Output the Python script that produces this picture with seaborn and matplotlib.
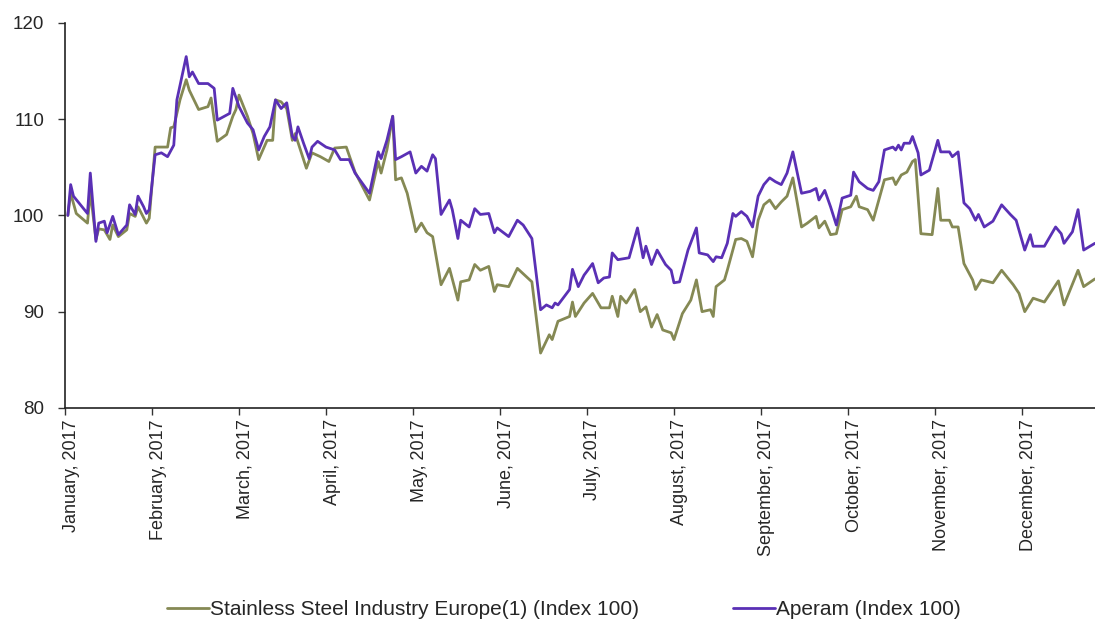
import calendar
import matplotlib.pyplot as plt
import matplotlib.transforms as mtransforms
import pandas as pd
import seaborn as sns

# DATA (2017, index = 100)
sse_dates = [
    "01-02", "01-03", "01-05", "01-09", "01-10", "01-12", "01-13", "01-15", "01-17", "01-18",
    "01-20", "01-23", "01-24", "01-26", "01-27", "01-30", "01-31", "02-02", "02-06", "02-07",
    "02-08", "02-10", "02-12", "02-13", "02-16", "02-19", "02-20", "02-22", "02-25", "02-27",
    "02-28", "03-01", "03-04", "03-06", "03-08", "03-11", "03-13", "03-14", "03-16", "03-18",
    "03-20", "03-21", "03-25", "03-27", "03-30", "04-02", "04-04", "04-08", "04-11", "04-16",
    "04-19", "04-20", "04-22", "04-24", "04-25", "04-27", "04-29", "05-02", "05-04", "05-06",
    "05-08", "05-11", "05-14", "05-17", "05-18", "05-21", "05-23", "05-25", "05-28", "05-30",
    "05-31", "06-04", "06-07", "06-12", "06-15", "06-18", "06-19", "06-21", "06-25", "06-26",
    "06-27", "06-30", "07-03", "07-06", "07-09", "07-10", "07-12", "07-13", "07-15", "07-18",
    "07-20", "07-22", "07-24", "07-26", "07-28", "07-31", "08-01", "08-04", "08-07", "08-09",
    "08-11", "08-14", "08-15", "08-16", "08-19", "08-20", "08-23", "08-25", "08-27", "08-29",
    "08-31", "09-02", "09-04", "09-06", "09-08", "09-10", "09-12", "09-15", "09-17", "09-20",
    "09-21", "09-23", "09-25", "09-27", "09-29", "10-02", "10-04", "10-05", "10-08", "10-10",
    "10-12", "10-14", "10-17", "10-18", "10-20", "10-22", "10-24", "10-25", "10-27", "10-31",
    "11-02", "11-03", "11-06", "11-07", "11-09", "11-11", "11-14", "11-15", "11-17", "11-21",
    "11-24", "11-28", "11-30", "12-02", "12-05", "12-09", "12-14", "12-16", "12-21", "12-23",
    "12-27",
]
sse_values = [
    100.0, 102.3, 100.2, 99.2, 102.5, 97.5, 98.6, 98.5, 97.5, 99.0,
    97.8, 98.5, 100.2, 99.9, 100.9, 99.2, 99.7, 107.1, 107.1, 109.1,
    109.2, 112.0, 114.1, 113.0, 111.0, 111.3, 112.2, 107.7, 108.4, 110.3,
    111.0, 112.5, 110.3, 108.5, 105.8, 107.8, 107.8, 112.0, 111.8, 111.1,
    107.8, 108.5, 104.9, 106.5, 106.1, 105.6, 107.0, 107.1, 104.5, 101.6,
    105.6, 104.4, 106.8, 110.3, 103.7, 103.9, 102.3, 98.3, 99.2, 98.2,
    97.8, 92.8, 94.5, 91.2, 93.1, 93.3, 94.9, 94.3, 94.7, 92.1,
    92.8, 92.6, 94.5, 93.1, 85.7, 87.6, 87.1, 89.0, 89.5, 91.0,
    89.5, 90.9, 91.9, 90.4, 90.4, 91.6, 89.5, 91.6, 90.9, 92.3,
    90.0, 90.5, 88.4, 89.7, 88.1, 87.8, 87.1, 89.8, 91.2, 93.3,
    90.0, 90.2, 89.5, 92.6, 93.3, 94.3, 97.5, 97.6, 97.3, 95.7,
    99.5, 101.1, 101.6, 100.7, 101.4, 102.0, 103.9, 98.8, 99.2, 99.9,
    98.7, 99.4, 98.0, 98.1, 100.6, 100.9, 102.0, 100.9, 100.6, 99.5,
    101.6, 103.7, 103.9, 103.2, 104.2, 104.5, 105.6, 105.8, 98.1, 98.0,
    102.8, 99.5, 99.5, 98.8, 98.8, 95.0, 93.3, 92.3, 93.3, 93.0,
    94.3, 92.8, 91.9, 90.0, 91.4, 91.0, 93.2, 90.7, 94.3, 92.6,
    93.4,
]

aperam_dates = [
    "01-02", "01-03", "01-04", "01-09", "01-10", "01-12", "01-13", "01-15", "01-16", "01-18",
    "01-20", "01-23", "01-24", "01-26", "01-27", "01-29", "01-30", "01-31", "02-02", "02-04",
    "02-06", "02-08", "02-09", "02-12", "02-13", "02-14", "02-16", "02-19", "02-21", "02-22",
    "02-26", "02-27", "03-01", "03-04", "03-06", "03-08", "03-10", "03-12", "03-14", "03-16",
    "03-18", "03-20", "03-21", "03-22", "03-24", "03-26", "03-27", "03-29", "04-01", "04-04",
    "04-06", "04-09", "04-11", "04-16", "04-19", "04-20", "04-22", "04-24", "04-25", "04-27",
    "04-30", "05-02", "05-04", "05-06", "05-08", "05-09", "05-11", "05-14", "05-15", "05-17",
    "05-18", "05-21", "05-23", "05-25", "05-28", "05-30", "05-31", "06-04", "06-07", "06-09",
    "06-12", "06-15", "06-17", "06-19", "06-20", "06-21", "06-25", "06-26", "06-28", "06-30",
    "07-01", "07-03", "07-05", "07-07", "07-09", "07-10", "07-12", "07-16", "07-19", "07-21",
    "07-22", "07-24", "07-26", "07-29", "07-31", "08-01", "08-03", "08-06", "08-09", "08-10",
    "08-13", "08-15", "08-16", "08-18", "08-20", "08-22", "08-23", "08-25", "08-27", "08-29",
    "08-31", "09-02", "09-04", "09-06", "09-08", "09-10", "09-12", "09-15", "09-18", "09-20",
    "09-21", "09-23", "09-25", "09-27", "09-29", "10-02", "10-03", "10-05", "10-08", "10-10",
    "10-12", "10-14", "10-17", "10-18", "10-19", "10-20", "10-21", "10-23", "10-24", "10-26",
    "10-27", "10-30", "11-02", "11-03", "11-06", "11-07", "11-09", "11-11", "11-13", "11-15",
    "11-16", "11-18", "11-21", "11-24", "11-27", "11-29", "12-02", "12-04", "12-05", "12-09",
    "12-13", "12-15", "12-16", "12-19", "12-21", "12-23", "12-27",
]
aperam_values = [
    100.0, 103.2, 102.0, 100.2, 104.4, 97.3, 99.2, 99.4, 98.2, 99.9,
    98.0, 99.0, 101.1, 100.1, 102.0, 100.9, 100.2, 100.6, 106.3, 106.5,
    106.1, 107.3, 112.0, 116.5, 114.4, 114.9, 113.7, 113.7, 113.2, 109.9,
    110.6, 113.2, 111.3, 109.6, 108.9, 106.8, 108.2, 109.2, 112.0, 111.1,
    111.7, 108.2, 107.8, 109.2, 107.5, 105.9, 107.1, 107.7, 107.1, 106.8,
    105.8, 105.8, 104.4, 102.3, 106.6, 105.9, 107.8, 110.3, 105.8, 106.1,
    106.6, 104.4, 105.1, 104.6, 106.3, 105.9, 100.1, 101.6, 100.6, 97.6,
    99.5, 98.8, 100.7, 100.1, 100.2, 98.2, 98.7, 97.8, 99.5, 99.0,
    97.6, 90.2, 90.7, 90.4, 90.9, 90.7, 92.3, 94.4, 92.6, 93.8,
    94.2, 95.0, 93.0, 93.5, 93.6, 96.1, 95.4, 95.6, 98.7, 95.6,
    96.8, 94.9, 96.4, 94.9, 94.3, 93.0, 93.1, 96.4, 98.7, 96.1,
    95.9, 95.2, 95.7, 95.6, 97.1, 100.2, 99.9, 100.4, 99.9, 98.8,
    102.0, 103.2, 103.9, 103.5, 103.2, 104.4, 106.6, 102.3, 102.5, 102.8,
    101.6, 102.6, 100.9, 99.0, 101.8, 102.1, 104.5, 103.5, 102.8, 102.6,
    103.5, 106.8, 107.1, 106.8, 107.3, 106.8, 107.5, 107.5, 108.2, 106.5,
    104.2, 104.7, 107.8, 106.6, 106.6, 106.1, 106.6, 101.3, 100.7, 99.5,
    100.1, 98.8, 99.4, 101.1, 100.1, 99.5, 96.4, 98.0, 96.8, 96.8,
    98.8, 98.1, 97.1, 98.3, 100.6, 96.4, 97.1,
]

series_names = ["Stainless Steel Industry Europe(1) (Index 100)", "Aperam (Index 100)"]
series_colors = ["#858954", "#5a30b5"]
month_names = ["January", "February", "March", "April", "May", "June", "July",
               "August", "September", "October", "November", "December"]
month_labels = [f"{m}, 2017" for m in month_names]


def month_pos(d):
    # position on a month axis: each month gets the same width
    return d.month - 1 + (d.day - 1) / calendar.monthrange(d.year, d.month)[1]


frames = []
for name, dates, vals in [(series_names[0], sse_dates, sse_values),
                          (series_names[1], aperam_dates, aperam_values)]:
    dd = pd.to_datetime(["2017-" + s for s in dates])
    frames.append(pd.DataFrame({"pos": [month_pos(d) for d in dd], "value": vals, "series": name}))
df = pd.concat(frames, ignore_index=True)

sns.set_style("ticks")
plt.rcParams["font.family"] = ["Liberation Sans", "DejaVu Sans"]

fig = plt.figure(figsize=(10.95, 6.19), dpi=100)
ax = fig.add_axes([0.0594, 0.341, 0.9406, 0.622])

sns.lineplot(data=df, x="pos", y="value", hue="series", hue_order=series_names,
             palette=series_colors, linewidth=2.0, legend=False, ax=ax)

ax.set_xlim(0, 11.84)
ax.set_ylim(80, 120)
ax.set_yticks([80, 90, 100, 110, 120])
ax.set_xticks(range(12))
ax.set_xticklabels(month_labels, rotation=90, fontsize=13)
ax.tick_params(axis="y", labelsize=13.5, length=5, width=1, color="#333333", pad=10)
ax.tick_params(axis="x", length=5, width=1, color="#333333", pad=3)
ax.set_xlabel("")
ax.set_ylabel("")
for side in ["top", "right"]:
    ax.spines[side].set_visible(False)
for side in ["left", "bottom"]:
    ax.spines[side].set_color("#222222")
    ax.spines[side].set_linewidth(1.2)

# month labels sit a little right of their ticks in the original
shift = mtransforms.ScaledTranslation(6 / 100, 0, fig.dpi_scale_trans)
for lab in ax.get_xticklabels():
    lab.set_transform(lab.get_transform() + shift)

handles = ax.get_lines()[:2]
fig.legend(handles, series_names, loc="lower center", bbox_to_anchor=(0.515, -0.03),
           ncol=2, frameon=False, fontsize=15, handlelength=2.0, handletextpad=0.05,
           columnspacing=4.5)

fig.savefig("out.png", dpi=100)
